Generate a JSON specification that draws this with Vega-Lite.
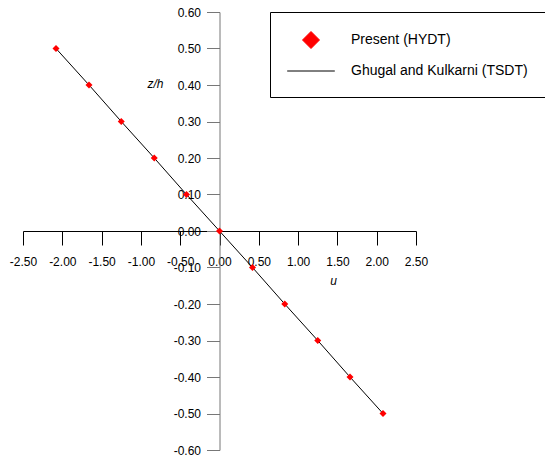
{
  "$schema": "https://vega.github.io/schema/vega-lite/v6.json",
  "width": 393,
  "height": 438,
  "autosize": {"type": "none"},
  "padding": {"left": 23, "top": 12, "right": 129, "bottom": 13},
  "background": "white",
  "config": {
    "view": {"stroke": null},
    "font": "Liberation Sans"
  },
  "data": {
    "values": [
      {"series": "Present (HYDT)", "u": -2.08, "z": 0.5},
      {"series": "Present (HYDT)", "u": -1.66, "z": 0.4},
      {"series": "Present (HYDT)", "u": -1.25, "z": 0.3},
      {"series": "Present (HYDT)", "u": -0.83, "z": 0.2},
      {"series": "Present (HYDT)", "u": -0.42, "z": 0.1},
      {"series": "Present (HYDT)", "u": 0.0, "z": 0.0},
      {"series": "Present (HYDT)", "u": 0.42, "z": -0.1},
      {"series": "Present (HYDT)", "u": 0.83, "z": -0.2},
      {"series": "Present (HYDT)", "u": 1.25, "z": -0.3},
      {"series": "Present (HYDT)", "u": 1.66, "z": -0.4},
      {"series": "Present (HYDT)", "u": 2.08, "z": -0.5},
      {"series": "Ghugal and Kulkarni (TSDT)", "u": -2.08, "z": 0.5},
      {"series": "Ghugal and Kulkarni (TSDT)", "u": -1.66, "z": 0.4},
      {"series": "Ghugal and Kulkarni (TSDT)", "u": -1.25, "z": 0.3},
      {"series": "Ghugal and Kulkarni (TSDT)", "u": -0.83, "z": 0.2},
      {"series": "Ghugal and Kulkarni (TSDT)", "u": -0.42, "z": 0.1},
      {"series": "Ghugal and Kulkarni (TSDT)", "u": 0.0, "z": 0.0},
      {"series": "Ghugal and Kulkarni (TSDT)", "u": 0.42, "z": -0.1},
      {"series": "Ghugal and Kulkarni (TSDT)", "u": 0.83, "z": -0.2},
      {"series": "Ghugal and Kulkarni (TSDT)", "u": 1.25, "z": -0.3},
      {"series": "Ghugal and Kulkarni (TSDT)", "u": 1.66, "z": -0.4},
      {"series": "Ghugal and Kulkarni (TSDT)", "u": 2.08, "z": -0.5}
    ]
  },
  "encoding": {
    "x": {
      "field": "u", "type": "quantitative",
      "scale": {"domain": [-2.5, 2.5], "nice": false, "zero": false},
      "axis": {
        "orient": "bottom", "offset": -219, "grid": false,
        "values": [-2.5, -2, -1.5, -1, -0.5, 0, 0.5, 1, 1.5, 2, 2.5],
        "format": ".2f", "labelExpr": "replace(datum.label, '\u2212', '-')",
        "labelOverlap": false, "labelFlush": false,
        "domainColor": "black", "tickColor": "black", "tickSize": 14, "tickWidth": 1, "domainWidth": 1,
        "labelFontSize": 12, "labelColor": "black", "labelPadding": 11, "labelFont": "Liberation Sans",
        "title": "u", "titleFontStyle": "italic", "titleFontWeight": "normal", "titleFontSize": 12,
        "titleX": 310, "titleY": 49, "titleAlign": "center", "titleBaseline": "middle", "titleColor": "black",
        "titleFont": "Liberation Sans"
      }
    },
    "y": {
      "field": "z", "type": "quantitative",
      "scale": {"domain": [-0.6, 0.6], "nice": false, "zero": false},
      "axis": {
        "orient": "left", "offset": -196.5, "grid": false,
        "values": [-0.6, -0.5, -0.4, -0.3, -0.2, -0.1, 0, 0.1, 0.2, 0.3, 0.4, 0.5, 0.6],
        "format": ".2f", "labelExpr": "replace(datum.label, '\u2212', '-')",
        "labelOverlap": false, "labelFlush": false,
        "domainColor": "#777777", "tickColor": "#777777", "tickSize": 13, "tickWidth": 1, "domainWidth": 1,
        "labelFontSize": 12, "labelColor": "black", "labelPadding": 6, "labelFont": "Liberation Sans",
        "title": "z/h", "titleFontStyle": "italic", "titleFontWeight": "normal", "titleFontSize": 12,
        "titleAngle": 0, "titleX": -64.5, "titleY": 71, "titleAlign": "center", "titleBaseline": "middle",
        "titleColor": "black", "titleFont": "Liberation Sans"
      }
    },
    "color": {
      "field": "series", "type": "nominal",
      "scale": {"domain": ["Present (HYDT)", "Ghugal and Kulkarni (TSDT)"], "range": ["red", "black"]},
      "legend": {
        "orient": "none", "legendX": 247, "legendY": 0, "title": null,
        "padding": 19, "strokeColor": "black", "fillColor": "white",
        "labelFontSize": 14, "labelFont": "Liberation Sans", "labelColor": "black", "labelLimit": 300,
        "symbolSize": 289, "symbolOffset": 13, "labelOffset": 31, "rowPadding": 11,
        "encode": {
          "symbols": {
            "update": {
              "shape": {"signal": "datum.value == 'Present (HYDT)' ? 'diamond' : 'M-2.8,0H2.8'"},
              "size": {"value": 289},
              "fill": {"signal": "datum.value == 'Present (HYDT)' ? 'red' : 'transparent'"},
              "stroke": {"signal": "datum.value == 'Present (HYDT)' ? 'transparent' : 'black'"},
              "strokeWidth": {"value": 1},
              "opacity": {"value": 1}
            }
          }
        }
      }
    }
  },
  "layer": [
    {
      "transform": [{"filter": "datum.series == 'Ghugal and Kulkarni (TSDT)'"}],
      "mark": {"type": "line", "strokeWidth": 1}
    },
    {
      "transform": [{"filter": "datum.series == 'Present (HYDT)'"}],
      "mark": {"type": "point", "shape": "diamond", "filled": true, "size": 49, "opacity": 1}
    }
  ]
}
